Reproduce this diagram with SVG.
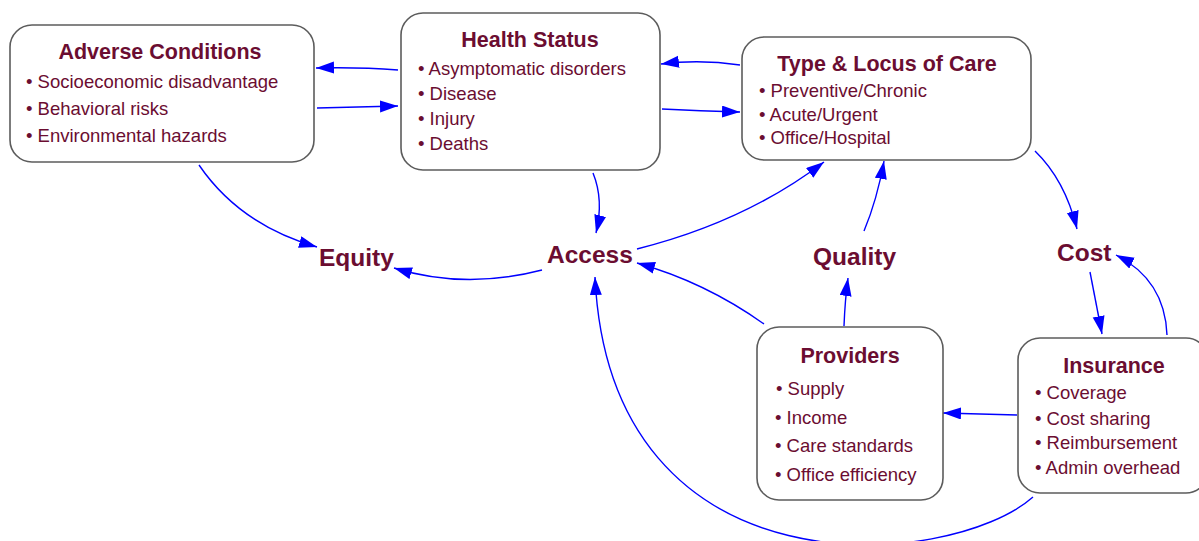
<svg xmlns="http://www.w3.org/2000/svg" width="1199" height="541" viewBox="0 0 1199 541">
<style>
.box{fill:#fff;stroke:#5c5c5c;stroke-width:1.6}
.title{font-family:"Liberation Sans",Arial,sans-serif;font-weight:bold;font-size:21.5px;fill:#6b0d31;text-anchor:middle}
.item{font-family:"Liberation Sans",Arial,sans-serif;font-size:18.5px;fill:#6b0d31}
.label{font-family:"Liberation Sans",Arial,sans-serif;font-weight:bold;font-size:24.5px;fill:#6b0d31}
.conn{fill:none;stroke:#0000ff;stroke-width:1.4;marker-end:url(#ah)}
</style>
<defs>
<marker id="ah" markerUnits="userSpaceOnUse" markerWidth="20" markerHeight="14" refX="18" refY="6" orient="auto">
<path d="M0,0 L18,6 L0,12 z" fill="#0000ff"/>
</marker>
</defs>
<g id="connectors">
<path class="conn" d="M398,70 Q360,67 316,68"/>
<path class="conn" d="M317,108 Q360,107 398,106"/>
<path class="conn" d="M740,65 Q700,59 661,64"/>
<path class="conn" d="M662,109 Q700,111 740,112"/>
<path class="conn" d="M199,165 Q240,225 317,247"/>
<path class="conn" d="M593,173 Q604,200 596,233"/>
<path class="conn" d="M542,270 Q465,290 394,268"/>
<path class="conn" d="M637,249 Q745,222 824,162"/>
<path class="conn" d="M864,231 Q877,200 884,161"/>
<path class="conn" d="M764,324 Q705,282 637,263"/>
<path class="conn" d="M844,326 Q845,300 848,278"/>
<path class="conn" d="M1035,151 Q1065,180 1077,229"/>
<path class="conn" d="M1090,272 L1102,334"/>
<path class="conn" d="M1167,335 Q1165,280 1116,255"/>
<path class="conn" d="M1017,415 L943,413"/>
<path class="conn" d="M1033,497 C950,570 610,600 595,277"/>
</g>
<g id="adverse">
<rect class="box" x="10" y="25" width="304" height="137" rx="22"/>
<text class="title" x="160" y="59">Adverse Conditions</text>
<text class="item" x="26" y="88">• Socioeconomic disadvantage</text>
<text class="item" x="26" y="115">• Behavioral risks</text>
<text class="item" x="26" y="142">• Environmental hazards</text>
</g>
<g id="health">
<rect class="box" x="401" y="13" width="259" height="157" rx="22"/>
<text class="title" x="530" y="47">Health Status</text>
<text class="item" x="418" y="75">• Asymptomatic disorders</text>
<text class="item" x="418" y="100">• Disease</text>
<text class="item" x="418" y="125">• Injury</text>
<text class="item" x="418" y="150">• Deaths</text>
</g>
<g id="type">
<rect class="box" x="742" y="37" width="289" height="123" rx="22"/>
<text class="title" x="887" y="71">Type &amp; Locus of Care</text>
<text class="item" x="759" y="97">•  Preventive/Chronic</text>
<text class="item" x="759" y="121">• Acute/Urgent</text>
<text class="item" x="759" y="144">• Office/Hospital</text>
</g>
<g id="providers">
<rect class="box" x="757" y="327" width="186" height="173" rx="22"/>
<text class="title" x="850" y="363">Providers</text>
<text class="item" x="776" y="395">•  Supply</text>
<text class="item" x="775" y="424">• Income</text>
<text class="item" x="775" y="452">• Care standards</text>
<text class="item" x="775" y="481">• Office efficiency</text>
</g>
<g id="insurance">
<rect class="box" x="1018" y="338" width="190" height="155" rx="22"/>
<text class="title" x="1114" y="373">Insurance</text>
<text class="item" x="1035" y="399">• Coverage</text>
<text class="item" x="1035" y="425">• Cost sharing</text>
<text class="item" x="1035" y="449">• Reimbursement</text>
<text class="item" x="1035" y="474">• Admin overhead</text>
</g>
<g id="equity"><text class="label" x="319" y="266">Equity</text></g>
<g id="access"><text class="label" x="547" y="263">Access</text></g>
<g id="quality"><text class="label" x="813" y="265">Quality</text></g>
<g id="cost"><text class="label" x="1057" y="261">Cost</text></g>
</svg>
